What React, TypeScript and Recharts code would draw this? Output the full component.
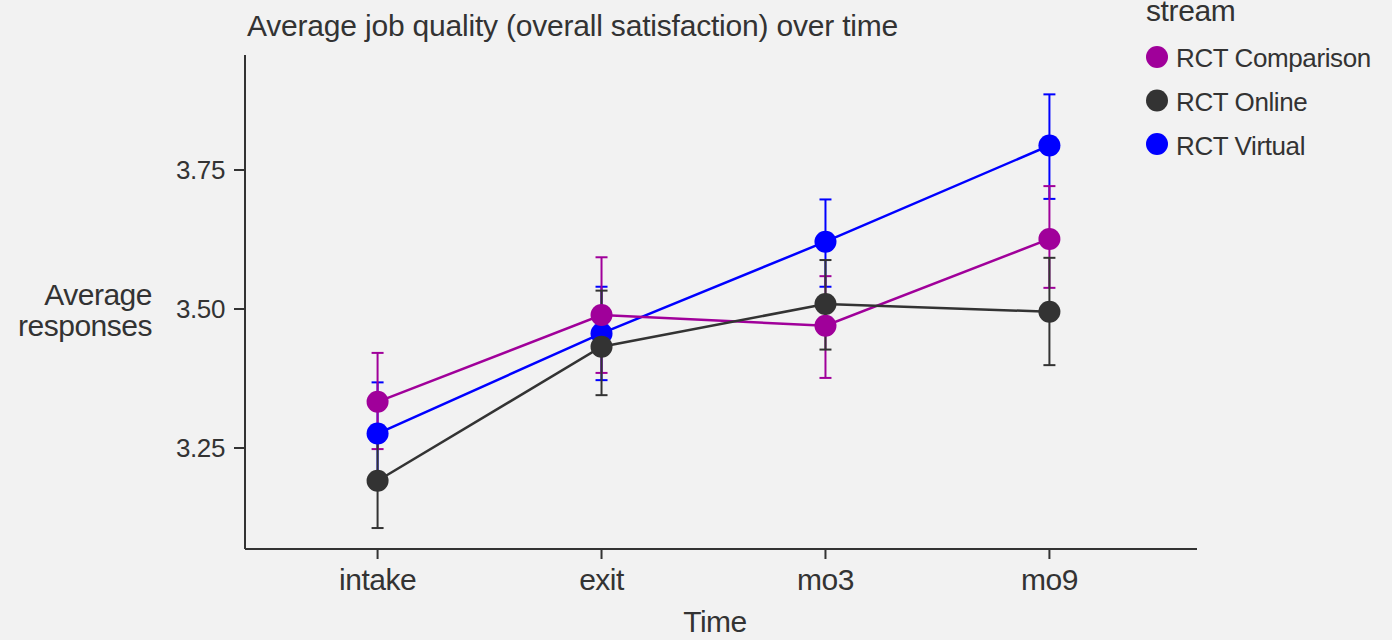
import React from 'react';
import { LineChart, Line, XAxis, YAxis, ErrorBar, Label } from 'recharts';

const timeLabels = ['intake', 'exit', 'mo3', 'mo9'];
const seriesNames = ['RCT Comparison', 'RCT Online', 'RCT Virtual'];

const comparison = [3.333, 3.489, 3.47, 3.626];
const comparisonLow = [0.085, 0.104, 0.094, 0.088];
const comparisonHigh = [0.088, 0.104, 0.089, 0.095];

const online = [3.191, 3.432, 3.509, 3.495];
const onlineLow = [0.085, 0.087, 0.082, 0.096];
const onlineHigh = [0.085, 0.101, 0.079, 0.097];

const virtual = [3.276, 3.456, 3.621, 3.794];
const virtualLow = [0.092, 0.084, 0.081, 0.096];
const virtualHigh = [0.092, 0.084, 0.076, 0.092];

const yTicks = [3.25, 3.5, 3.75];

const COLORS = ['#a0009a', '#333333', '#0000ff'];
const FONT = '"Liberation Sans", Arial, sans-serif';
const TEXT = '#333333';

const data = timeLabels.map((_, i) => ({
  t: i,
  comparison: comparison[i],
  comparisonErr: [comparisonLow[i], comparisonHigh[i]],
  online: online[i],
  onlineErr: [onlineLow[i], onlineHigh[i]],
  virtual: virtual[i],
  virtualErr: [virtualLow[i], virtualHigh[i]],
}));

const W = 1392;
const H = 640;

const renderXLabel = () => (
  <text x={715} y={632} textAnchor="middle" fontFamily={FONT} fontSize={30} fill={TEXT} letterSpacing={-0.5}>
    Time
  </text>
);

const renderYLabel = () => (
  <text textAnchor="end" fontFamily={FONT} fontSize={30} fill={TEXT} letterSpacing={-0.5}>
    <tspan x={152} y={305}>Average</tspan>
    <tspan x={152} y={336}>responses</tspan>
  </text>
);

export default function App() {
  return (
    <div style={{ position: 'absolute', left: 0, top: 0, width: W, height: H, background: '#f2f2f2' }}>
      <LineChart width={W} height={H} data={data} margin={{ top: 55, right: 195, bottom: 0, left: 0 }}>
        <XAxis
          type="number"
          dataKey="t"
          domain={[-0.592, 3.659]}
          ticks={[0, 1, 2, 3]}
          tickFormatter={(v: number) => timeLabels[v]}
          allowDataOverflow
          height={91}
          stroke="#333333"
          strokeWidth={2}
          tickSize={10}
          tickMargin={10}
          tick={{ fontFamily: FONT, fontSize: 30, fill: TEXT, letterSpacing: -0.5 }}
        >
          <Label content={renderXLabel} />
        </XAxis>
        <YAxis
          type="number"
          domain={[3.0683, 3.9568]}
          ticks={yTicks}
          tickFormatter={(v: number) => v.toFixed(2)}
          allowDataOverflow
          width={245}
          stroke="#333333"
          strokeWidth={2}
          tickSize={11}
          tickMargin={9}
          tick={{ fontFamily: FONT, fontSize: 26, fill: TEXT, letterSpacing: -0.4 }}
        >
          <Label content={renderYLabel} />
        </YAxis>
        <Line
          dataKey="virtual"
          stroke={COLORS[2]}
          strokeWidth={2.5}
          dot={{ r: 11, fill: COLORS[2], stroke: 'none' }}
          isAnimationActive={false}
        >
          <ErrorBar dataKey="virtualErr" width={6} stroke={COLORS[2]} strokeWidth={2} isAnimationActive={false} />
        </Line>
        <Line
          dataKey="comparison"
          stroke={COLORS[0]}
          strokeWidth={2.5}
          dot={{ r: 11, fill: COLORS[0], stroke: 'none' }}
          isAnimationActive={false}
        >
          <ErrorBar dataKey="comparisonErr" width={6} stroke={COLORS[0]} strokeWidth={2} isAnimationActive={false} />
        </Line>
        <Line
          dataKey="online"
          stroke={COLORS[1]}
          strokeWidth={2.5}
          dot={{ r: 11, fill: COLORS[1], stroke: 'none' }}
          isAnimationActive={false}
        >
          <ErrorBar dataKey="onlineErr" width={6} stroke={COLORS[1]} strokeWidth={2} isAnimationActive={false} />
        </Line>
      </LineChart>
      <svg
        width={W}
        height={H}
        style={{ position: 'absolute', left: 0, top: 0, pointerEvents: 'none' }}
      >
        <text x={247} y={36} fontFamily={FONT} fontSize={30} fill={TEXT} letterSpacing={-0.2}>
          Average job quality (overall satisfaction) over time
        </text>
        <text x={1146} y={21} fontFamily={FONT} fontSize={30} fill={TEXT} letterSpacing={-0.4}>
          stream
        </text>
        {seriesNames.map((name, i) => (
          <g key={name}>
            <circle cx={1157} cy={57 + i * 43.5} r={11} fill={COLORS[i]} />
            <text x={1176} y={66.5 + i * 44} fontFamily={FONT} fontSize={26} fill={TEXT} letterSpacing={-0.4}>
              {name}
            </text>
          </g>
        ))}
      </svg>
    </div>
  );
}
